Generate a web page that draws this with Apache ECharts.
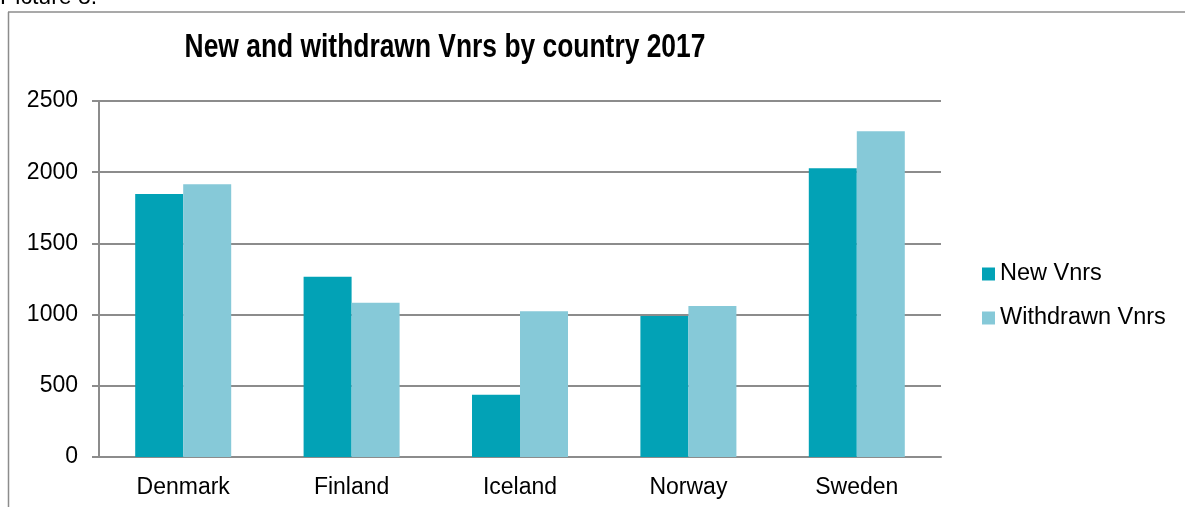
<!DOCTYPE html>
<html>
<head>
<meta charset="UTF-8">
<title>New and withdrawn Vnrs by country 2017</title>
<script src="https://cdn.jsdelivr.net/npm/echarts@6/dist/echarts.min.js"></script>
<style>
html, body { margin: 0; padding: 0; background: #fff; }
#chart { width: 1185px; height: 507px; }
</style>
</head>
<body>
<div id="chart"></div>
<script>
// data
var countries = ['Denmark', 'Finland', 'Iceland', 'Norway', 'Sweden'];
var newVnrs = [1847, 1265, 437, 990, 2027];
var withdrawnVnrs = [1915, 1083, 1023, 1060, 2287];
var yTicks = [0, 500, 1000, 1500, 2000, 2500];

var axisGrey = '#8c8c8c';
var font = 'Liberation Sans, Arial, sans-serif';

var chart = echarts.init(document.getElementById('chart'));
chart.setOption({
	animation: false,
	textStyle: { fontFamily: font },
	graphic: [
		{ type: 'text', left: 0, top: -14, style: { text: 'Picture 8.', fontSize: 23, fontFamily: font, fill: '#000' } },
		{ type: 'line', shape: { x1: 8.5, y1: 12, x2: 8.5, y2: 507 }, style: { stroke: axisGrey, lineWidth: 1.5 } },
		{ type: 'line', shape: { x1: 8, y1: 12, x2: 1185, y2: 12 }, style: { stroke: axisGrey, lineWidth: 1.5 } },
		// title drawn as narrow bold text (no Arial Narrow installed)
		{
			type: 'text', x: 445, y: 48, scaleX: 0.8,
			style: {
				text: 'New and withdrawn Vnrs by country 2017',
				font: 'bold 33px Liberation Sans, Arial, sans-serif',
				fill: '#000', align: 'center', verticalAlign: 'middle'
			}
		}
	],
	legend: {
		orient: 'vertical',
		left: 982,
		top: 262,
		padding: 0,
		icon: 'rect',
		itemWidth: 13,
		itemHeight: 13,
		itemGap: 20,
		textStyle: { fontSize: 23.5, color: '#000', fontFamily: font },
		data: ['New Vnrs', 'Withdrawn Vnrs']
	},
	grid: { left: 99, right: 244, top: 101, bottom: 50, containLabel: false },
	xAxis: {
		type: 'category',
		data: countries,
		axisLine: { lineStyle: { color: axisGrey, width: 2 } },
		axisTick: { length: 7, lineStyle: { color: axisGrey, width: 2 } },
		axisLabel: { fontSize: 23, color: '#000', margin: 19 }
	},
	yAxis: {
		type: 'value',
		min: yTicks[0],
		max: yTicks[yTicks.length - 1],
		interval: 500,
		axisLine: { show: true, lineStyle: { color: axisGrey, width: 2 } },
		axisTick: { show: true, length: 7, lineStyle: { color: axisGrey, width: 2 } },
		axisLabel: { fontSize: 23, color: '#000', margin: 21, formatter: function (v) { return String(v); } },
		splitLine: { lineStyle: { color: axisGrey, width: 2 } }
	},
	series: [
		{
			name: 'New Vnrs',
			type: 'bar',
			data: newVnrs,
			barWidth: 48,
			barGap: '0%',
			itemStyle: { color: '#02a2b6' }
		},
		{
			name: 'Withdrawn Vnrs',
			type: 'bar',
			data: withdrawnVnrs,
			barWidth: 48,
			barGap: '0%',
			itemStyle: { color: '#86c9d8' }
		}
	]
});
</script>
</body>
</html>
